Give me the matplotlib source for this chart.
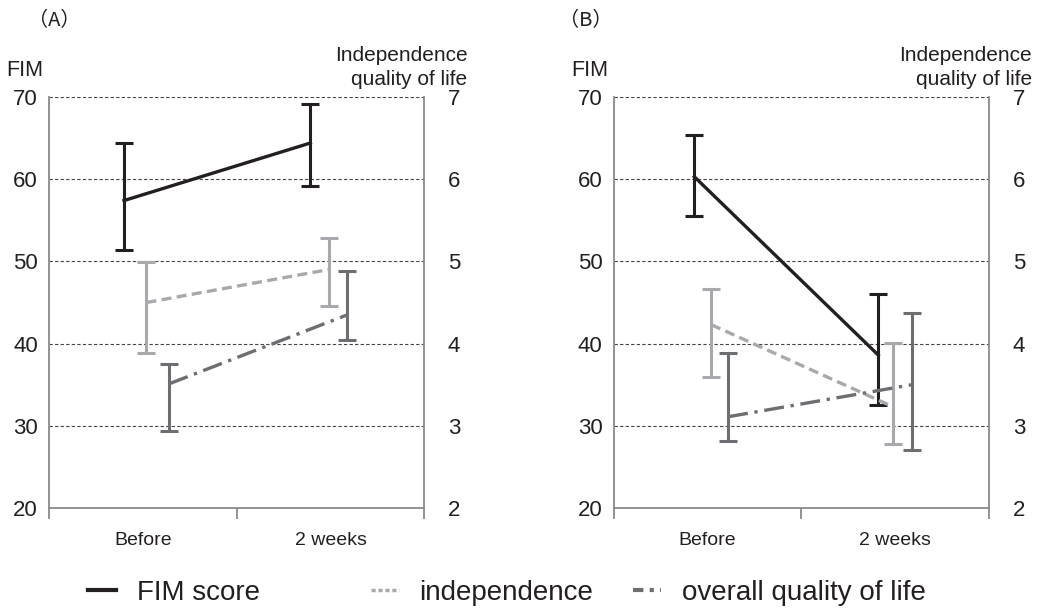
import matplotlib
matplotlib.use('Agg')
import matplotlib.pyplot as plt
from matplotlib.lines import Line2D
import numpy as np

plt.rcParams['font.family'] = ['Liberation Sans', 'Noto Sans CJK JP', 'DejaVu Sans']

# data (FIM on left axis, independence / QoL on right axis 2-7)
categories = ['Before', '2 weeks']

fim_a = [57.4, 64.4]
fim_a_lo = [51.4, 59.2]
fim_a_hi = [64.4, 69.2]
ind_a = [4.50, 4.90]
ind_a_lo = [3.89, 4.46]
ind_a_hi = [4.99, 5.29]
qol_a = [3.51, 4.35]
qol_a_lo = [2.94, 4.04]
qol_a_hi = [3.75, 4.88]

fim_b = [60.3, 38.6]
fim_b_lo = [55.5, 32.5]
fim_b_hi = [65.4, 46.0]
ind_b = [4.23, 3.23]
ind_b_lo = [3.59, 2.78]
ind_b_hi = [4.67, 4.01]
qol_b = [3.11, 3.50]
qol_b_lo = [2.82, 2.71]
qol_b_hi = [3.89, 4.37]

legend_labels = ['FIM score', 'independence', 'overall quality of life']

C_FIM = '#231f20'
C_IND = '#a7a9ac'
C_QOL = '#6d6e71'

fig = plt.figure(figsize=(10.4, 6.08), dpi=100)
fig.patch.set_facecolor('white')


def draw_panel(rect, label, label_x, fim, fim_lo, fim_hi, ind, ind_lo, ind_hi,
               qol, qol_lo, qol_hi, offs):
    ax = fig.add_axes(rect)
    x = np.arange(len(categories))
    ax.set_xlim(-0.5, 1.5)
    ax.set_ylim(20, 70)
    # everything is drawn on the FIM scale; right axis is FIM/10
    series = [
        (fim, fim_lo, fim_hi, 1.0, C_FIM, '-', offs[0]),
        (ind, ind_lo, ind_hi, 10.0, C_IND, (0, (3, 1.6)), offs[1]),
        (qol, qol_lo, qol_hi, 10.0, C_QOL, (0, (6, 2, 1, 2)), offs[2]),
    ]
    for vals, lo, hi, k, col, ls, off in series:
        v = np.array(vals) * k
        err = [v - np.array(lo) * k, np.array(hi) * k - v]
        xs = x + np.array(off)
        ax.errorbar(xs, v, yerr=err, fmt='none', ecolor=col, elinewidth=2.2,
                    capsize=6.5, capthick=2.2, zorder=3)
        ax.plot(xs, v, color=col, linestyle=ls, linewidth=2.4, zorder=4)

    for g in [30, 40, 50, 60, 70]:
        ax.axhline(g, color='#444444', linestyle=(0, (3, 2)), linewidth=0.8, zorder=1)

    ax.spines['top'].set_visible(False)
    for s in ['left', 'right', 'bottom']:
        ax.spines[s].set_color('#8a8a8a')
        ax.spines[s].set_linewidth(1.3)
    ax.set_yticks([20, 30, 40, 50, 60, 70])
    ax.set_yticklabels(['20', '30', '40', '50', '60', '70'], fontsize=16, color='#231f20')
    ax.tick_params(axis='y', length=0, pad=8)
    ax.set_xticks([-0.5, 0.5, 1.5])
    ax.set_xticklabels([])
    ax.tick_params(axis='x', length=8, width=1.3, color='#8a8a8a', direction='out')
    ax.set_xticks(x, minor=True)
    ax.set_xticklabels(categories, minor=True, fontsize=14, color='#231f20')
    ax.tick_params(axis='x', which='minor', length=0, pad=17)

    ax2 = ax.twinx()
    ax2.set_ylim(2, 7)
    ax2.set_yticks([2, 3, 4, 5, 6, 7])
    ax2.set_yticklabels(['2', '3', '4', '5', '6', '7'], fontsize=16, color='#231f20')
    ax2.tick_params(axis='y', length=0, pad=17)
    for s in ['top', 'left', 'right', 'bottom']:
        ax2.spines[s].set_visible(False)

    ax.text(-0.015, 1.04, 'FIM', transform=ax.transAxes, ha='right', va='bottom',
            fontsize=15.5, color='#231f20')
    ax.text(1.115, 1.02, 'Independence\nquality of life', transform=ax.transAxes,
            ha='right', va='bottom', fontsize=15, color='#231f20', linespacing=1.3)
    ax.text(label_x, 1.187, label, transform=ax.transAxes, ha='left', va='center',
            fontsize=14.5, color='#231f20', family=['Noto Sans CJK JP', 'DejaVu Sans'])
    return ax


draw_panel([0.047, 0.1645, 0.361, 0.676], '（A）', -0.055,
           fim_a, fim_a_lo, fim_a_hi, ind_a, ind_a_lo, ind_a_hi, qol_a, qol_a_lo, qol_a_hi,
           [[-0.10, -0.107], [0.02, -0.01], [0.14, 0.09]])
draw_panel([0.590, 0.1645, 0.361, 0.676], '（B）', -0.145,
           fim_b, fim_b_lo, fim_b_hi, ind_b, ind_b_lo, ind_b_hi, qol_b, qol_b_lo, qol_b_hi,
           [[-0.07, -0.09], [0.02, -0.01], [0.11, 0.09]])

handles = [
    Line2D([], [], color=C_FIM, linewidth=3, linestyle='-'),
    Line2D([], [], color=C_IND, linewidth=2.5, linestyle=(0, (1.2, 0.8))),
    Line2D([], [], color=C_QOL, linewidth=3, linestyle=(0, (2.5, 1.5, 1, 1.5))),
]
legend_x = [0.0846, 0.3567, 0.6087]
for h, lab, lx in zip(handles, legend_labels, legend_x):
    leg = fig.legend([h], [lab], loc='center left', bbox_to_anchor=(lx, 0.025),
                     frameon=False, fontsize=20, handlelength=1.0, handletextpad=0.75,
                     borderpad=0, borderaxespad=0, labelcolor='#231f20')

plt.savefig('out.png', dpi=100, facecolor='white')
